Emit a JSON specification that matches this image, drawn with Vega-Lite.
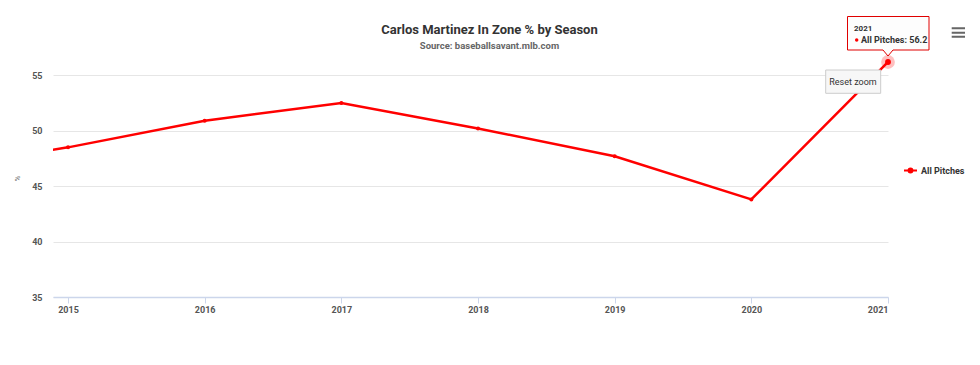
{
  "$schema": "https://vega.github.io/schema/vega-lite/v6.json",
  "width": 835,
  "height": 235,
  "autosize": {"type": "none"},
  "padding": {"left": 53, "top": 62, "right": 92, "bottom": 68},
  "background": "#ffffff",
  "config": {"view": {"stroke": null}, "font": "Roboto, sans-serif"},
  "title": {
    "text": "Carlos Martinez In Zone % by Season",
    "subtitle": "Source: baseballsavant.mlb.com",
    "anchor": "middle",
    "dx": 19,
    "offset": -36,
    "font": "Roboto, sans-serif",
    "fontSize": 13,
    "fontWeight": "bold",
    "color": "#333333",
    "subtitleFont": "Roboto, sans-serif",
    "subtitleFontSize": 9.5,
    "subtitleFontWeight": "bold",
    "subtitleColor": "#666666",
    "subtitlePadding": 4
  },
  "data": {"values": [
    {"season": 2014, "series": "All Pitches", "pct": 46.6},
    {"season": 2015, "series": "All Pitches", "pct": 48.5},
    {"season": 2016, "series": "All Pitches", "pct": 50.9},
    {"season": 2017, "series": "All Pitches", "pct": 52.5},
    {"season": 2018, "series": "All Pitches", "pct": 50.2},
    {"season": 2019, "series": "All Pitches", "pct": 47.7},
    {"season": 2020, "series": "All Pitches", "pct": 43.8},
    {"season": 2021, "series": "All Pitches", "pct": 56.2}
  ]},
  "encoding": {
    "x": {
      "field": "season", "type": "quantitative",
      "scale": {"domain": [2014.89, 2021], "nice": false, "zero": false},
      "axis": {
        "values": [2015, 2016, 2017, 2018, 2019, 2020, 2021],
        "format": "d", "grid": false, "title": null,
        "domainColor": "#ccd6eb", "domainWidth": 1.5,
        "tickColor": "#ccd6eb", "tickSize": 6,
        "labelFontSize": 9, "labelFontWeight": "bold", "labelColor": "#555555",
        "labelPadding": 2
      }
    },
    "y": {
      "field": "pct", "type": "quantitative",
      "scale": {"domain": [35, 56.2], "nice": false, "zero": false},
      "axis": {
        "values": [35, 40, 45, 50, 55],
        "grid": true, "gridColor": "#e6e6e6",
        "domain": false, "ticks": false,
        "labelPadding": 11, "labelFontSize": 9, "labelFontWeight": "bold", "labelColor": "#555555",
        "title": "%", "titleFontSize": 8, "titleFontWeight": "normal", "titleColor": "#666666",
        "titleX": -32, "titleY": 116
      }
    }
  },
  "layer": [
    {
      "mark": {"type": "line", "strokeWidth": 2.5, "clip": true, "point": {"filled": true, "size": 16}},
      "encoding": {
        "color": {
          "field": "series", "type": "nominal",
          "scale": {"range": ["#ff0000"]},
          "legend": {
            "orient": "none", "legendX": 850, "legendY": 101, "title": null,
            "symbolType": "M-1,0H1M0.3,0A0.3,0.3,0,1,1,-0.3,0A0.3,0.3,0,1,1,0.3,0Z",
            "symbolSize": 169, "symbolStrokeWidth": 2,
            "symbolStrokeColor": "#ff0000", "symbolFillColor": "#ff0000",
            "labelFontSize": 9, "labelFontWeight": "bold", "labelColor": "#333333",
            "labelOffset": 3
          }
        }
      }
    },
    {
      "transform": [{"filter": "datum.season == 2021"}],
      "mark": {"type": "point", "shape": "circle", "filled": true, "size": 190, "color": "#ff0000", "opacity": 0.25}
    },
    {
      "transform": [{"filter": "datum.season == 2021"}],
      "mark": {"type": "point", "shape": "circle", "filled": true, "size": 34, "color": "#ff0000", "opacity": 1}
    },
    {
      "transform": [{"filter": "datum.season == 2021"}],
      "mark": {"type": "point", "shape": "M-1.246,0.16H-0.146V0.626H-1.246Z", "size": 10000, "filled": true, "fill": "#f7f7f7", "stroke": "#cccccc", "strokeWidth": 1, "opacity": 1}
    },
    {
      "transform": [{"filter": "datum.season == 2021"}, {"calculate": "'Reset zoom'", "as": "btn"}],
      "mark": {"type": "text", "align": "center", "baseline": "middle", "dx": -35, "dy": 20, "fontSize": 9, "color": "#333333"},
      "encoding": {"text": {"field": "btn", "type": "nominal"}}
    },
    {
      "transform": [{"filter": "datum.season == 2021"}],
      "mark": {"type": "point", "shape": "M-0.81,-0.91H0.82V-0.24H0.1L0,-0.12L-0.1,-0.24H-0.81Z", "size": 10000, "filled": true, "fill": "#fdfdfd", "stroke": "#e00000", "strokeWidth": 1, "opacity": 1}
    },
    {
      "transform": [{"filter": "datum.season == 2021"}],
      "mark": {"type": "text", "align": "left", "baseline": "middle", "dx": -34, "dy": -33, "fontSize": 8, "fontWeight": "bold", "color": "#333333"},
      "encoding": {"text": {"field": "season", "type": "nominal"}}
    },
    {
      "transform": [{"filter": "datum.season == 2021"}],
      "mark": {"type": "point", "shape": "circle", "filled": true, "size": 12, "color": "#ff0000", "opacity": 1, "xOffset": -31.3, "yOffset": -22}
    },
    {
      "transform": [{"filter": "datum.season == 2021"}, {"calculate": "datum.series + ': ' + format(datum.pct, '.1f')", "as": "label"}],
      "mark": {"type": "text", "align": "left", "baseline": "middle", "dx": -27, "dy": -22, "fontSize": 9, "fontWeight": "bold", "color": "#333333"},
      "encoding": {"text": {"field": "label", "type": "nominal"}}
    },
    {
      "transform": [{"filter": "datum.season == 2021"}],
      "mark": {"type": "point", "shape": "M1.274,-0.674H1.54M1.274,-0.586H1.54M1.274,-0.506H1.54", "size": 10000, "filled": false, "stroke": "#666666", "strokeWidth": 2, "opacity": 1}
    }
  ]
}
